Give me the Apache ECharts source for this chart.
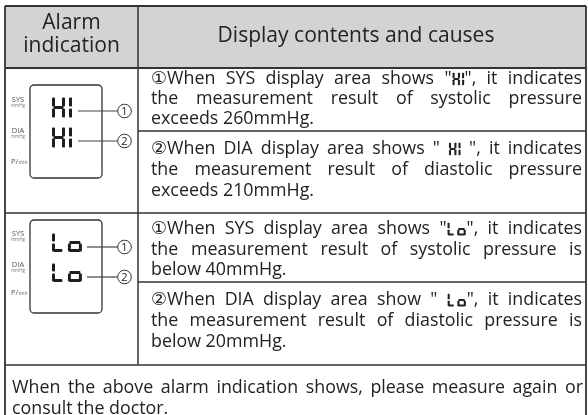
<!DOCTYPE html>
<html><head><meta charset="utf-8">
<style>html,body{margin:0;padding:0;background:#fff}#c{width:588px;height:415px}</style>
<script src="https://cdn.jsdelivr.net/npm/echarts@6/dist/echarts.min.js"></script>
</head><body><div id="c"></div>
<script>
// ---- content (data) ----
const headerLeft = ['Alarm', 'indication'];
const headerRight = ['Display contents and causes'];
const sideLabels = ['SYS', 'DIA', 'P/'];
const sideUnits = ['mmHg', 'mmHg', 'min'];
const alarmCodes = ['HI', 'Lo'];
const calloutNums = ['1', '2'];
const blockHiSys = ['①When SYS display area shows "[HI]",  it indicates', 'the measurement result of systolic pressure', 'exceeds 260mmHg.'];
const blockHiDia = ['②When DIA display area shows " [HI] ", it indicates', 'the measurement result of diastolic pressure', 'exceeds 210mmHg.'];
const blockLoSys = ['①When SYS display area shows "[Lo]", it indicates', 'the measurement result of systolic pressure is', 'below 40mmHg.'];
const blockLoDia = ['②When DIA display area show " [Lo]", it indicates', 'the measurement result of diastolic pressure is', 'below 20mmHg.'];
const footerLines = ['When the above alarm indication shows, please measure again or', 'consult the doctor.'];

// ---- layout ----
const FONT = '"Open Sans", "DejaVu Sans", "Noto Sans CJK SC", sans-serif';
const INK = '#222';
const LINE = '#333';
const L = 5, R = 586, TOP = 6, COL = 138;
const HEAD_B = 68, ROW1_B = 213, ROW2_B = 365;
const SUB1 = 131, SUB2 = 282;
const TX0 = 151, TX1 = 582;
const blocks = [
  {lines: blockHiSys, y: [79, 99, 119]},
  {lines: blockHiDia, y: [149, 170, 191]},
  {lines: blockLoSys, y: [229, 250, 270]},
  {lines: blockLoDia, y: [300, 321, 342]}
];
const footerY = [388, 409];

const ctx = document.createElement('canvas').getContext('2d');
function tw(s, size) { ctx.font = size + 'px ' + FONT; return ctx.measureText(s).width; }
const FS = Math.min(19, Math.max(14, 100 * 545 / tw(footerLines[0], 100)));
const HFS = Math.min(22, Math.max(15, 100 * 277 / tw(headerRight[0], 100)));

const els = [];
function rect(x, y, w, h, fill) { els.push({type: 'rect', shape: {x, y, width: w, height: h}, style: {fill}, silent: true}); }
function line(x1, y1, x2, y2, w, c) { els.push({type: 'line', shape: {x1, y1, x2, y2}, style: {stroke: c || LINE, lineWidth: w || 1.5}, silent: true}); }
function text(s, x, y, size, opts) {
  opts = opts || {};
  els.push({type: 'text', silent: true, style: {text: s, x, y, font: (opts.weight || 'normal') + ' ' + size + 'px ' + FONT,
    fill: opts.fill || INK, textAlign: opts.align || 'left', textVerticalAlign: 'middle', align: opts.align || 'left', verticalAlign: 'middle'}});
}
// seven segment digit
function seg7(x, y, w, h, t, segs, color) {
  const m = y + h / 2, g = Math.max(0.5, t * 0.35);
  const vh = h / 2 - g * 1.5;
  const map = {
    a: [x + t * 0.5, y, w - t, t],
    g: [x + t * 0.5, m - t / 2, w - t, t],
    d: [x + t * 0.5, y + h - t, w - t, t],
    f: [x, y + g * 0.5, t, vh],
    e: [x, m + g, t, vh],
    b: [x + w - t, y + g * 0.5, t, vh],
    c: [x + w - t, m + g, t, vh]
  };
  for (const s of segs) { const r = map[s]; els.push({type: 'rect', silent: true, shape: {x: r[0], y: r[1], width: r[2], height: r[3], r: t * 0.3}, style: {fill: color}}); }
}
const CELLS = {
  H: {segs: 'bcefg', w: 1.0},
  I: {segs: 'ef', w: 0},
  L: {segs: 'def', w: 0.85},
  o: {segs: 'cdeg', w: 1.0}
};
function drawCode(code, x, y, cw, h, t, gap, color) {
  let cx = x;
  for (const ch of code) {
    const c = CELLS[ch];
    const w = c.w === 0 ? t : cw * c.w;
    seg7(cx, y, w, h, t, c.segs, color);
    cx += w + gap;
  }
}
const INLINE = {'[HI]': {code: 'HI', w: 13, cw: 7.5, gap: 2}, '[Lo]': {code: 'Lo', w: 20, cw: 8.5, gap: 2.5}};
function parts(word) { return word.split(/(\[HI\]|\[Lo\])/).filter(s => s.length); }
function wordW(word, size) { return parts(word).reduce((s, p) => s + (INLINE[p] ? INLINE[p].w : tw(p, size)), 0); }
function drawWord(word, x, yc, size) {
  for (const p of parts(word)) {
    if (INLINE[p]) {
      const g = INLINE[p];
      drawCode(g.code, x + 1, yc - 6.5, g.cw, 13, 2.1, g.gap, INK);
      x += g.w;
    } else { text(p, x, yc, size); x += tw(p, size); }
  }
}
function drawLine(str, x0, x1, yc, size, justify) {
  const words = str.split(' ').filter(w => w.length);
  const ws = words.map(w => wordW(w, size));
  const tot = ws.reduce((a, b) => a + b, 0);
  const gap = justify && words.length > 1 ? (x1 - x0 - tot) / (words.length - 1) : tw(' ', size);
  let x = x0;
  words.forEach((w, i) => { drawWord(w, x, yc, size); x += ws[i] + gap; });
}

// header
rect(L, TOP, R - L, HEAD_B - TOP, '#d3d3d3');
text(headerLeft[0], (L + COL) / 2, 23, HFS, {align: 'center'});
text(headerLeft[1], (L + COL) / 2, 46, HFS, {align: 'center'});
text(headerRight[0], 356, 36, HFS, {align: 'center'});

// body text
blocks.forEach(b => b.lines.forEach((s, i) => drawLine(s, TX0, TX1, b.y[i], FS, i < b.lines.length - 1)));
drawLine(footerLines[0], 12, 583, footerY[0], FS, true);
drawLine(footerLines[1], 12, 583, footerY[1], FS, false);

// LCD panels
const panels = [{top: 85, glyphTop: [97, 127], code: alarmCodes[0], labY: [100, 131, 162], lineX0: 78},
                {top: 220, glyphTop: [233, 263], code: alarmCodes[1], labY: [234, 265, 293], lineX0: 87}];
panels.forEach(p => {
  els.push({type: 'rect', silent: true, shape: {x: 30, y: p.top, width: 72, height: 93, r: 4}, style: {fill: 'none', stroke: LINE, lineWidth: 1.3}});
  sideLabels.forEach((s, i) => {
    if (i < 2) {
      text(s, 18, p.labY[i], 7.5, {align: 'center', fill: '#555'});
      text(sideUnits[i], 18, p.labY[i] + 6, 4.5, {align: 'center', fill: '#777'});
    } else {
      text(s, 11, p.labY[i], 7.5, {fill: '#555'});
      text(sideUnits[i], 18.5, p.labY[i] + 1, 5, {fill: '#666'});
    }
  });
  p.glyphTop.forEach((gy, k) => {
    if (p.code === 'HI') drawCode('HI', 52, gy, 13, 21, 3, 4, '#1e1e1e');
    else drawCode('Lo', 52, gy, 14, 19, 3, 4, '#1e1e1e');
    const cy = gy + 14;
    line(p.lineX0, cy, 117.5, cy, 1.2, '#444');
    els.push({type: 'circle', silent: true, shape: {cx: 124.5, cy, r: 6.8}, style: {fill: '#fff', stroke: '#333', lineWidth: 1}});
    text(calloutNums[k], 124.5, cy + 0.5, 11, {align: 'center'});
  });
});

// grid lines
line(L, TOP, R, TOP, 2);
line(L, TOP, L, 420, 1.8);
line(R, TOP, R, 420, 1.8);
line(COL, TOP, COL, ROW2_B, 1.5);
line(L, HEAD_B, R, HEAD_B, 2);
line(COL, SUB1, R, SUB1, 1.5);
line(L, ROW1_B, R, ROW1_B, 1.5);
line(COL, SUB2, R, SUB2, 1.5);
line(L, ROW2_B, R, ROW2_B, 1.5);

const chart = echarts.init(document.getElementById('c'), null, {renderer: 'canvas'});
chart.setOption({animation: false, graphic: {elements: els}});
</script></body></html>
